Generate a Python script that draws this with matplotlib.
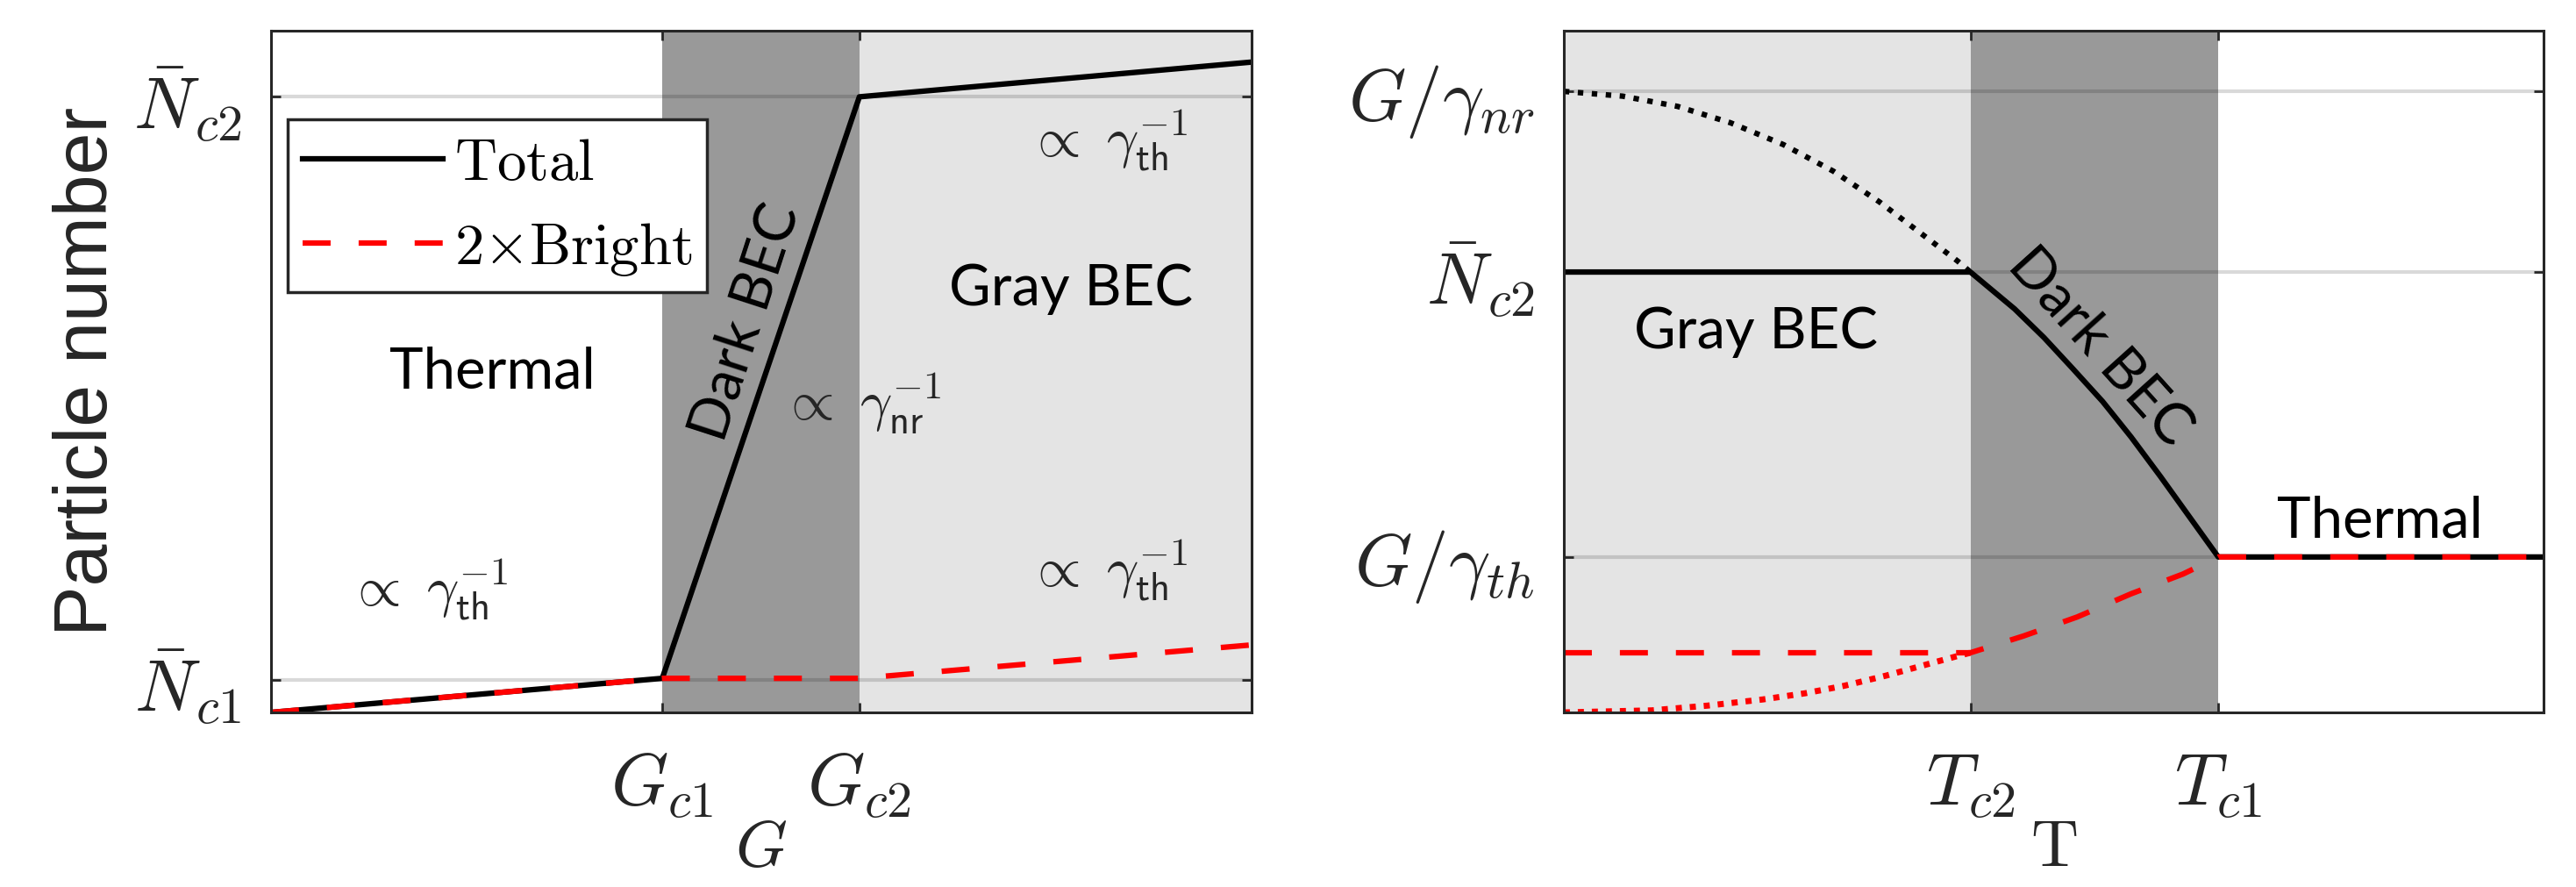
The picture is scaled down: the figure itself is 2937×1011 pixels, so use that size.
import matplotlib
matplotlib.use('Agg')
import matplotlib.pyplot as plt

plt.rcParams['mathtext.fontset'] = 'cm'
plt.rcParams['lines.scale_dashes'] = False

# ---- left panel: particle number vs pump G (arbitrary units, 0..1)
g_crit = [0.399, 0.600]
g_crit_labels = [r'$G_{c1}$', r'$G_{c2}$']
n_left_ticks = [0.048, 0.903]
n_left_labels = [r'$\bar{N}_{c1}$', r'$\bar{N}_{c2}$']

g_total = [0.0, 0.399, 0.600, 1.0]
n_total = [0.0, 0.050, 0.903, 0.954]
g_bright = [0.0, 0.399, 0.600, 1.0]
n_bright = [0.0, 0.050, 0.050, 0.099]

# ---- right panel: particle number vs temperature T
t_crit = [0.415, 0.668]
t_crit_labels = [r'$T_{c2}$', r'$T_{c1}$']
n_right_ticks = [0.228, 0.646, 0.911]
n_right_labels = [r'$G/\gamma_{th}$', r'$\bar{N}_{c2}$', r'$G/\gamma_{nr}$']

t_total = [0.0, 0.415, 0.460, 0.490, 0.519, 0.550, 0.579, 0.609, 0.639, 0.668, 1.0]
n_total_t = [0.646, 0.646, 0.592, 0.550, 0.505, 0.456, 0.404, 0.346, 0.286, 0.228, 0.228]
t_total_ext = [0.0, 0.060, 0.116, 0.170, 0.224, 0.275, 0.322, 0.367, 0.402, 0.415]
n_total_ext = [0.911, 0.904, 0.889, 0.865, 0.833, 0.794, 0.749, 0.700, 0.662, 0.646]
t_bright = [0.0, 0.415, 0.469, 0.524, 0.579, 0.632, 0.668, 1.0]
n_bright_t = [0.0875, 0.0875, 0.112, 0.140, 0.174, 0.203, 0.228, 0.228]
t_bright_ext = [0.0, 0.090, 0.147, 0.203, 0.246, 0.286, 0.329, 0.372, 0.400, 0.415]
n_bright_ext = [0.0, 0.003, 0.010, 0.019, 0.028, 0.039, 0.054, 0.071, 0.082, 0.0875]

dark = '#999999'
light = '#e4e4e4'
ink = '#262626'
prop_th = r'$\propto\ \gamma_{\mathsf{th}}^{\mathsf{-1}}$'
prop_nr = r'$\propto\ \gamma_{\mathsf{nr}}^{\mathsf{-1}}$'

fig = plt.figure(figsize=(29.37, 10.11), dpi=100)
ax1 = fig.add_axes([309 / 2937, 1 - 812 / 1011, 1118 / 2937, 777 / 1011])
ax2 = fig.add_axes([1783 / 2937, 1 - 812 / 1011, 1117 / 2937, 777 / 1011])


def style(ax, xt, xl, yt, yl):
    ax.set_xlim(0, 1)
    ax.set_ylim(0, 1)
    ax.set_xticks(xt)
    ax.set_xticklabels(xl)
    ax.set_yticks(yt)
    ax.set_yticklabels(yl)
    ax.tick_params(direction='in', top=True, right=True, length=8, width=2,
                   color=ink, labelsize=60, labelcolor=ink)
    ax.tick_params(axis='x', pad=30)
    ax.tick_params(axis='y', pad=24)
    ax.yaxis.grid(True, color='k', alpha=0.15, lw=3)
    ax.set_axisbelow('line')
    for s in ax.spines.values():
        s.set_linewidth(2.2)
        s.set_color(ink)


# left panel
ax1.axvspan(g_crit[0], g_crit[1], color=dark, lw=0, zorder=0)
ax1.axvspan(g_crit[1], 1, color=light, lw=0, zorder=0)
ax1.plot(g_total, n_total, color='k', lw=4.5, label=r'$\mathrm{Total}$')
ax1.plot(g_bright, n_bright, color='r', lw=4.5, dashes=(23, 23),
         label=r'$2{\times}\mathrm{Bright}$')
style(ax1, g_crit, g_crit_labels, n_left_ticks, n_left_labels)

leg = ax1.legend(loc='upper left', bbox_to_anchor=(0.017, 0.87), borderaxespad=0,
                 fontsize=48, handlelength=2.4, handletextpad=0.2, labelspacing=0.45,
                 borderpad=0.25, fancybox=False, framealpha=1, edgecolor=ink)
leg.get_frame().set_linewidth(2.5)

ax1.text(0.226, 0.475, 'Thermal', family='Lato', fontsize=47, ha='center', va='baseline')
ax1.text(0.484, 0.573, 'Dark BEC', family='Lato', fontsize=47, rotation=72,
         rotation_mode='anchor', ha='center', va='center')
ax1.text(0.816, 0.597, 'Gray BEC', family='Lato', fontsize=47, ha='center', va='baseline')
ax1.text(0.853, 0.839, prop_th, fontsize=46, ha='center', va='center', color=ink)
ax1.text(0.853, 0.208, prop_th, fontsize=46, ha='center', va='center', color=ink)
ax1.text(0.160, 0.179, prop_th, fontsize=46, ha='center', va='center', color=ink)
ax1.text(0.602, 0.453, prop_nr, fontsize=46, ha='center', va='center', color=ink)

ax1.set_ylabel('Particle number', family='Liberation Sans', fontsize=62, color=ink, va='center')
ax1.yaxis.set_label_coords(-0.187, 0.5)
ax1.set_xlabel(r'$G$', fontsize=54, color=ink)
ax1.xaxis.set_label_coords(0.5, -0.152)

# right panel
ax2.axvspan(0, t_crit[0], color=light, lw=0, zorder=0)
ax2.axvspan(t_crit[0], t_crit[1], color=dark, lw=0, zorder=0)
ax2.plot(t_total_ext, n_total_ext, color='k', lw=4.5, dashes=(4.5, 7))
ax2.plot(t_bright_ext, n_bright_ext, color='r', lw=5, dashes=(5, 6.5))
ax2.plot(t_total, n_total_t, color='k', lw=4.5)
ax2.plot(t_bright, n_bright_t, color='r', lw=4.5, dashes=(23, 23))
style(ax2, t_crit, t_crit_labels, n_right_ticks, n_right_labels)

ax2.text(0.196, 0.534, 'Gray BEC', family='Lato', fontsize=47, ha='center', va='baseline')
ax2.text(0.548, 0.536, 'Dark BEC', family='Lato', fontsize=47, rotation=-48,
         rotation_mode='anchor', ha='center', va='center')
ax2.text(0.833, 0.257, 'Thermal', family='Lato', fontsize=47, ha='center', va='baseline')

ax2.set_xlabel(r'$\mathrm{T}$', fontsize=54, color=ink)
ax2.xaxis.set_label_coords(0.5, -0.152)

fig.savefig('out.png', dpi=100, facecolor='white')
